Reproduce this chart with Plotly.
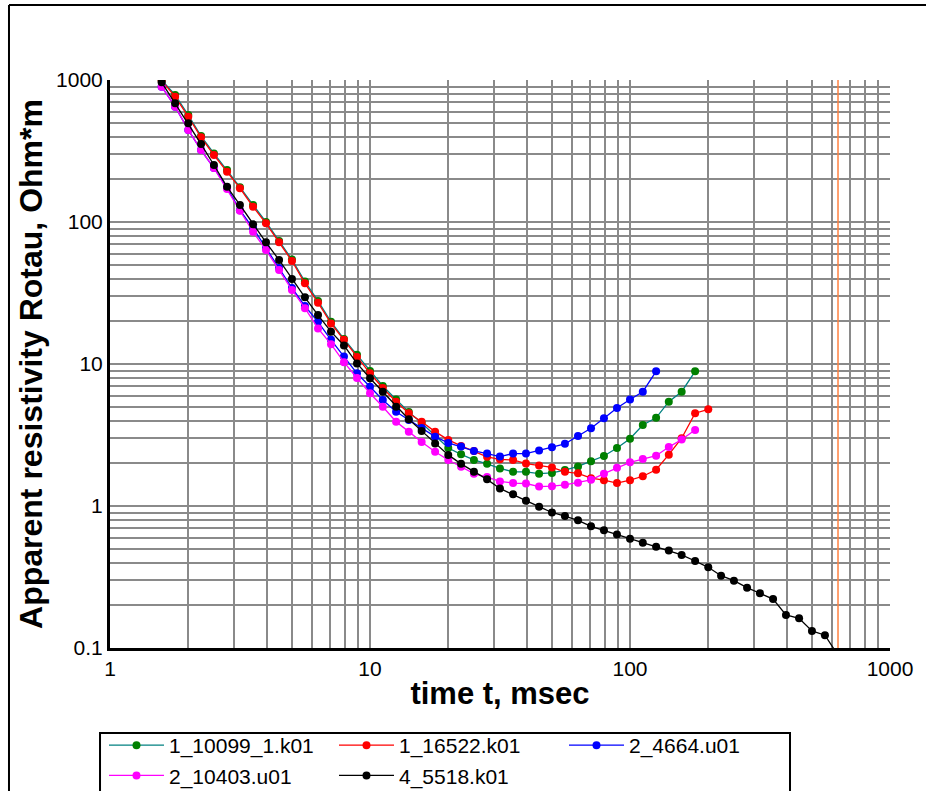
import plotly.graph_objects as go

# time gates, msec
time_ms = [1.58, 1.78, 2.00, 2.24, 2.51, 2.82, 3.16, 3.55, 3.98, 4.47, 5.01, 5.62,
           6.31, 7.08, 7.94, 8.91, 10.0, 11.2, 12.6, 14.1, 15.8, 17.8, 20.0, 22.4,
           25.1, 28.2, 31.6, 35.5, 39.8, 44.7, 50.1, 56.2, 63.1, 70.8, 79.4, 89.1,
           100, 112, 126, 141, 158, 178, 200, 224, 251, 282, 316, 355, 398, 447,
           501, 562, 631]

series_names = ["1_10099_1.k01", "1_16522.k01", "2_4664.u01", "2_10403.u01", "4_5518.k01"]

rho_1_10099 = [1000, 784, 567, 403, 304, 232, 176, 132, 100, 73.5, 54.4, 38.1, 27.8, 19.8,
               15.0, 11.6, 8.93, 7.00, 5.62, 4.59, 3.84, 3.11, 2.56, 2.31, 2.11, 1.98, 1.84,
               1.74, 1.74, 1.69, 1.71, 1.79, 1.90, 2.07, 2.25, 2.56, 2.98, 3.72, 4.18, 5.43,
               6.38, 8.88]
rho_1_16522 = [990, 763, 551, 395, 296, 226, 173, 128, 97.9, 71.9, 53.1, 37.0, 27.0, 19.3,
               14.8, 11.2, 8.60, 6.78, 5.43, 4.50, 3.92, 3.34, 2.92, 2.65, 2.44, 2.22, 2.13,
               2.11, 1.99, 1.93, 1.87, 1.74, 1.70, 1.57, 1.52, 1.45, 1.52, 1.62, 1.80, 2.30,
               3.00, 4.50, 4.80]
rho_2_4664 = [897, 649, 445, 321, 240, 174, 121, 90.7, 65.6, 47.5, 34.3, 25.6, 19.8, 14.8,
              11.3, 8.60, 6.92, 5.58, 4.61, 4.03, 3.54, 3.08, 2.78, 2.62, 2.44, 2.34, 2.23,
              2.34, 2.34, 2.46, 2.59, 2.74, 3.11, 3.53, 4.15, 4.90, 5.62, 6.38, 8.88]
rho_2_10403 = [897, 649, 445, 321, 240, 171, 120, 85.4, 63.5, 45.9, 33.2, 24.7, 17.8, 13.8,
               10.3, 7.97, 6.22, 5.00, 3.92, 3.34, 2.82, 2.41, 2.11, 1.89, 1.69, 1.60, 1.49,
               1.45, 1.44, 1.37, 1.38, 1.41, 1.46, 1.53, 1.69, 1.86, 2.03, 2.14, 2.26, 2.60,
               2.94, 3.43]
rho_4_5518 = [963, 685, 496, 354, 252, 177, 132, 96.3, 71.9, 54.0, 39.7, 29.5, 22.1, 16.9,
              13.5, 10.1, 7.93, 6.38, 5.00, 4.08, 3.38, 2.76, 2.29, 1.98, 1.74, 1.54, 1.33,
              1.21, 1.09, 0.989, 0.900, 0.850, 0.793, 0.719, 0.674, 0.630, 0.587, 0.551,
              0.517, 0.486, 0.452, 0.410, 0.370, 0.323, 0.298, 0.266, 0.243, 0.221, 0.171,
              0.162, 0.132, 0.123, 0.089]

cutoff_time = 631

x_tick_vals = [1, 2, 3, 4, 5, 6, 7, 8, 9, 10, 20, 30, 40, 50, 60, 70, 80, 90,
               100, 200, 300, 400, 500, 600, 700, 800, 900, 1000]
x_tick_text = ["1", "", "", "", "", "", "", "", "", "10", "", "", "", "", "", "", "", "",
               "100", "", "", "", "", "", "", "", "", "1000"]
y_tick_vals = [0.1, 0.2, 0.3, 0.4, 0.5, 0.6, 0.7, 0.8, 0.9, 1, 2, 3, 4, 5, 6, 7, 8, 9,
               10, 20, 30, 40, 50, 60, 70, 80, 90, 100, 200, 300, 400, 500, 600, 700, 800,
               900, 1000]
y_tick_text = ["0.1", "", "", "", "", "", "", "", "", "1", "", "", "", "", "", "", "", "",
               "10", "", "", "", "", "", "", "", "", "100", "", "", "", "", "", "", "", "",
               "1000"]

series_values = [rho_1_10099, rho_1_16522, rho_2_4664, rho_2_10403, rho_4_5518]
line_colors = ["#008080", "#ff0000", "#0000ff", "#ff00ff", "#000000"]
marker_colors = ["#008000", "#ff0000", "#0000ff", "#ff00ff", "#000000"]

FONT = "Arial, Liberation Sans, sans-serif"

fig = go.Figure()
for name, vals, lc, mc in zip(series_names, series_values, line_colors, marker_colors):
    fig.add_trace(go.Scatter(
        x=time_ms[:len(vals)], y=vals, name=name, mode="lines+markers",
        line=dict(color=lc, width=1.3),
        marker=dict(color=mc, size=8, symbol="circle"),
    ))

grid_color = "#8a8a8a"
fig.update_xaxes(
    type="log", range=[0, 3], tickmode="array", tickvals=x_tick_vals, ticktext=x_tick_text,
    showgrid=True, gridcolor=grid_color, gridwidth=1.6, zeroline=False,
    showline=True, linecolor="black", linewidth=3, ticks="",
    tickfont=dict(family=FONT, size=21, color="black"),
    title=dict(text="<b>time t, msec</b>", font=dict(family=FONT, size=31, color="black"),
               standoff=4),
)
fig.update_yaxes(
    type="log", range=[-1, 3], tickmode="array", tickvals=y_tick_vals, ticktext=y_tick_text,
    showgrid=True, gridcolor=grid_color, gridwidth=1.6, zeroline=False,
    showline=True, linecolor="black", linewidth=3, ticks="",
    tickfont=dict(family=FONT, size=21, color="black"),
    title=dict(text="<b>Apparent resistivity Rotau, Ohm*m</b>",
               font=dict(family=FONT, size=32, color="black"), standoff=4),
)

fig.add_shape(type="line", xref="x", yref="paper", x0=cutoff_time, x1=cutoff_time,
              y0=0, y1=1, line=dict(color="#ff8040", width=1.5))
# outer frame lines
fig.add_shape(type="line", xref="paper", yref="paper", x0=-0.1295, x1=-0.1295,
              y0=-0.26, y1=1.132, line=dict(color="black", width=2))
fig.add_shape(type="line", xref="paper", yref="paper", x0=-0.1295, x1=1.05,
              y0=1.132, y1=1.132, line=dict(color="black", width=2))
# legend box
fig.add_shape(type="rect", xref="paper", yref="paper", x0=-0.0128, x1=0.8718,
              y0=-0.2676, y1=-0.1496, line=dict(color="black", width=2),
              fillcolor="rgba(0,0,0,0)")

fig.update_layout(
    width=926, height=791,
    margin=dict(l=110, r=36, t=80, b=143, autoexpand=False),
    paper_bgcolor="white", plot_bgcolor="white",
    font=dict(family=FONT, color="black"),
    showlegend=True,
    legend=dict(
        orientation="h", x=-0.0077, xanchor="left", y=-0.1356, yanchor="top",
        borderwidth=0, bgcolor="rgba(0,0,0,0)",
        font=dict(family=FONT, size=21, color="black"),
        entrywidth=160, entrywidthmode="pixels", itemwidth=55,
        tracegroupgap=0,
    ),
)

fig.write_html(
    "out.html",
    config={"displayModeBar": False},
    post_script="document.body.style.margin='0';document.body.style.overflow='hidden';",
)
